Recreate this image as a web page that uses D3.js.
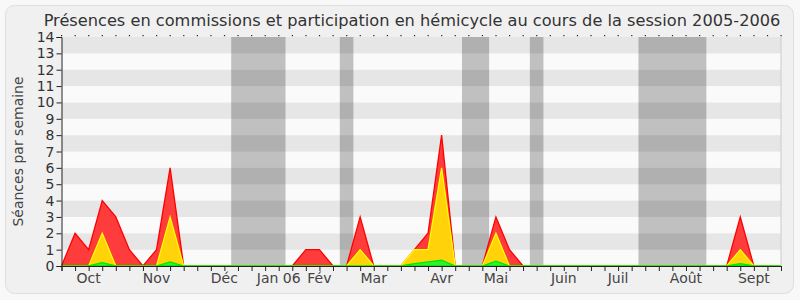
<!DOCTYPE html>
<html>
<head>
<meta charset="utf-8">
<script src="https://cdn.jsdelivr.net/npm/d3@7"></script>
<style>
  body { margin: 0; background: #f8f8f8; }
  svg { display: block; font-family: "DejaVu Sans", sans-serif; }
</style>
</head>
<body>
<div id="box"></div>
<script>
// weekly values, one per week of the session (54 points)
const presences = [0,2,1,4,3,1,0,1,6,0, 0,0,0,0,0,0,0,0,1,1, 0,0,3,0,0,0,1,2,8,0,
  0,0,3,1,0,0,0,0,0,0, 0,0,0,0,0,0,0,0,0,0, 3,0,0,0];
const interventions = [0,0,0,2,0,0,0,0,3,0, 0,0,0,0,0,0,0,0,0,0, 0,0,1,0,0,0,1,1,6,0,
  0,0,2,0,0,0,0,0,0,0, 0,0,0,0,0,0,0,0,0,0, 1,0,0,0];
const questions = [0,0,0,0.2,0,0,0,0,0.25,0, 0,0,0,0,0,0,0,0,0,0, 0,0,0,0,0,0,0.15,0.25,0.35,0,
  0,0,0.3,0,0,0,0,0,0,0, 0,0,0,0,0,0,0,0,0,0, 0.15,0,0,0];

// holiday weeks (first, last)
const vacances = [[13, 16], [21, 21], [30, 31], [35, 35], [43, 47]];

// month labels and the week they sit on
const mois = ['Oct', 'Nov', 'Déc', 'Jan 06', 'Fév', 'Mar', 'Avr', 'Mai', 'Juin', 'Juil', 'Août', 'Sept'];
const moisSemaine = [2, 7, 12, 16, 19, 23, 28, 32, 37, 41, 46, 51];

const yTicks = d3.range(0, 15);

const width = 800, height = 300;
const padLeft = 61.5, padRight = 19, padTop = 37, padBottom = 34;
const innerWidth = width - padLeft - padRight;
const innerHeight = height - padTop - padBottom;

const svg = d3.select('#box').append('svg')
  .attr('width', width)
  .attr('height', height);

svg.append('rect')
  .attr('x', 5.5).attr('y', 5.5)
  .attr('width', 788).attr('height', 288)
  .attr('rx', 9)
  .style('fill', '#f0f0f0')
  .style('stroke', '#dedede');

const weeks = d3.range(presences.length);

const x = d3.scaleLinear()
  .domain([0, presences.length - 1])
  .range([0, innerWidth]);

const y = d3.scaleLinear()
  .domain([0, 14])
  .range([innerHeight, 0]);

const g = svg.append('g')
  .attr('transform', `translate(${padLeft},${padTop})`);

// horizontal stripes
g.selectAll('.stripe').data(yTicks.slice(0, 14))
  .join('rect')
  .attr('class', 'stripe')
  .attr('x', 0)
  .attr('width', innerWidth)
  .attr('y', d => y(d + 1))
  .attr('height', d => y(d) - y(d + 1))
  .style('fill', d => d % 2 ? '#e6e6e6' : '#fafafa');

// holidays
g.selectAll('.vac').data(vacances)
  .join('rect')
  .attr('class', 'vac')
  .attr('x', d => x(d[0] - 0.5))
  .attr('width', d => x(d[1] + 0.5) - x(d[0] - 0.5))
  .attr('y', 0)
  .attr('height', innerHeight)
  .style('fill', 'rgba(0,0,0,0.23)');

function drawArea(values, fill, stroke) {
  const area = d3.area()
    .x(i => x(i))
    .y0(y(0))
    .y1(i => y(values[i]));
  g.append('path')
    .datum(weeks)
    .attr('d', area)
    .style('fill', fill)
    .style('stroke', stroke)
    .style('stroke-width', 1.3)
    .style('stroke-linejoin', 'miter');
}

drawArea(presences, '#ff3c3c', '#ff0000');
drawArea(interventions, '#ffd20a', '#ffff00');
drawArea(questions, '#33ee33', '#00e600');

// right border
g.append('line')
  .attr('x1', innerWidth).attr('x2', innerWidth)
  .attr('y1', 0).attr('y2', innerHeight)
  .style('stroke', '#cccccc');

// dots on top
g.selectAll('.dot').data(weeks)
  .join('rect')
  .attr('class', 'dot')
  .attr('x', d => x(d) - 0.5)
  .attr('y', -2)
  .attr('width', 1.2)
  .attr('height', 1.2)
  .style('fill', '#222');

// x axis
const xAxis = g.append('g')
  .attr('transform', `translate(0,${innerHeight})`)
  .call(d3.axisBottom(x).tickValues(weeks).tickSize(5).tickFormat(''));
xAxis.select('.domain').style('stroke', '#222');
xAxis.selectAll('.tick line').style('stroke', '#222');
xAxis.selectAll('.tick text').remove();

g.selectAll('.mois').data(mois)
  .join('text')
  .attr('class', 'mois')
  .attr('x', (d, i) => x(moisSemaine[i]))
  .attr('y', innerHeight + 17)
  .attr('text-anchor', 'middle')
  .style('font-size', '14px')
  .style('fill', '#444')
  .text(d => d);

// y axis
const yAxis = g.append('g')
  .call(d3.axisLeft(y).tickValues(yTicks).tickSize(5).tickFormat(''));
yAxis.select('.domain').style('stroke', '#222');
yAxis.selectAll('.tick line').style('stroke', '#222');
yAxis.selectAll('.tick text').remove();

g.selectAll('.ylab').data(yTicks)
  .join('text')
  .attr('class', 'ylab')
  .attr('x', -7)
  .attr('y', d => y(d))
  .attr('dy', '0.36em')
  .attr('text-anchor', 'end')
  .style('font-size', '14px')
  .style('fill', '#333')
  .text(d => d);

svg.append('text')
  .attr('transform', `translate(18,${padTop + innerHeight / 2}) rotate(-90)`)
  .attr('text-anchor', 'middle')
  .attr('dy', '0.35em')
  .style('font-size', '14px')
  .style('fill', '#444')
  .text('Séances par semaine');

svg.append('text')
  .attr('x', 412)
  .attr('y', 26)
  .attr('text-anchor', 'middle')
  .style('font-size', '16.2px')
  .style('fill', '#333')
  .text('Présences en commissions et participation en hémicycle au cours de la session 2005-2006');
</script>
</body>
</html>
